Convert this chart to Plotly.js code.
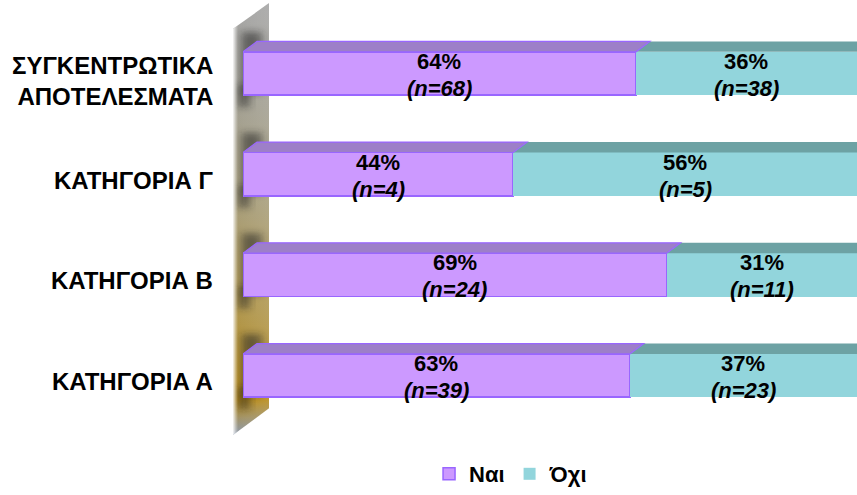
<!DOCTYPE html>
<html>
<head>
<meta charset="utf-8">
<script src="https://cdn.plot.ly/plotly-3.0.1.min.js"></script>
<style>html,body{margin:0;padding:0;background:#fff;}#chart{width:857px;height:495px;}</style>
</head>
<body>
<div id="chart"></div>
<script>
// ---- data ----
var categories = ['ΚΑΤΗΓΟΡΙΑ Α', 'ΚΑΤΗΓΟΡΙΑ Β', 'ΚΑΤΗΓΟΡΙΑ Γ', 'ΣΥΓΚΕΝΤΡΩΤΙΚΑ<br>ΑΠΟΤΕΛΕΣΜΑΤΑ'];
var seriesNames = ['Ναι', 'Όχι'];
var yesPct = [63, 69, 44, 64];
var noPct = [37, 31, 56, 36];
var yesN = [39, 24, 4, 68];
var noN = [23, 11, 5, 38];

// ---- geometry / style ----
var W = 857, H = 495;
var M = {l: 243, r: 0, t: 13, b: 54};
var yRange = [-0.6, 3.6];
var xRange = [0, 100];
var barW = 0.43;
var plotW = W - M.l - M.r, plotH = H - M.t - M.b;
var pxPerX = plotW / (xRange[1] - xRange[0]);
var pxPerY = plotH / (yRange[1] - yRange[0]);
var depthDx = 14 / pxPerX, depthDy = 10.5 / pxPerY;

var yesFront = '#CC99FF', yesLine = '#9966FF', yesTop = '#9D7FC8';
var noFront = '#92D5DC', noTop = '#6DA2A4';
var fontFam = 'Arial, "Liberation Sans", Helvetica, sans-serif';
var labelFont = {family: fontFam, size: 24, color: '#000', weight: 700};
var valueFont = {family: fontFam, size: 22, color: '#000', weight: 700};

var ys = categories.map(function (_, i) { return i; });

var traces = [
  {
    type: 'bar', orientation: 'h', name: seriesNames[0],
    y: ys, x: yesPct, width: barW,
    marker: {color: yesFront, line: {color: yesLine, width: 1.5}},
    hoverinfo: 'skip'
  },
  {
    type: 'bar', orientation: 'h', name: seriesNames[1],
    y: ys, x: noPct, width: barW,
    marker: {color: noFront, line: {color: noFront, width: 0}},
    hoverinfo: 'skip'
  }
];

// 3D top faces from data
var shapes = [];
function topFace(x0, x1, y, fill, line) {
  var yt = y + barW / 2;
  return {
    type: 'path', xref: 'x', yref: 'y', layer: 'above',
    path: 'M' + x0 + ',' + yt + ' L' + (x0 + depthDx) + ',' + (yt + depthDy) +
          ' L' + (x1 + depthDx) + ',' + (yt + depthDy) + ' L' + x1 + ',' + yt + ' Z',
    fillcolor: fill, line: {color: line, width: line === fill ? 0 : 1.2}
  };
}
ys.forEach(function (y, i) {
  shapes.push(topFace(yesPct[i], yesPct[i] + noPct[i], y, noTop, noTop));
  shapes.push(topFace(0, yesPct[i], y, yesTop, yesLine));
});

// value labels (two lines each) and category labels
var annotations = [];
function valueLabel(xMid, y, pct, n) {
  annotations.push({x: xMid, y: y, xref: 'x', yref: 'y', text: '<b>' + pct + '%</b>',
    showarrow: false, font: valueFont, xanchor: 'center', yanchor: 'middle', yshift: 12});
  annotations.push({x: xMid, y: y, xref: 'x', yref: 'y', text: '<b><i>(n=' + n + ')</i></b>',
    showarrow: false, font: valueFont, xanchor: 'center', yanchor: 'middle', yshift: -15});
}
ys.forEach(function (y, i) {
  valueLabel(yesPct[i] / 2, y, yesPct[i], yesN[i]);
  valueLabel(yesPct[i] + noPct[i] / 2, y, noPct[i], noN[i]);
  var twoLine = categories[i].indexOf('<br>') >= 0;
  annotations.push({
    x: 0, y: y, xref: 'paper', yref: 'y', xanchor: 'right', yanchor: 'middle', align: 'right',
    xshift: -28, yshift: twoLine ? -8 : -6, showarrow: false, font: labelFont,
    text: categories[i].split('<br>').map(function (p) { return '<b>' + p + '</b>'; }).join('<br>')
  });
});

// decorative back wall (svg image)
var wallPx = {x0: 233, x1: 269, y0: 3, y1: 440};
var ww = wallPx.x1 - wallPx.x0, wh = wallPx.y1 - wallPx.y0;
function yToPx(v) { return M.t + (yRange[1] - v) * pxPerY; }
var shadowRects = ys.map(function (y) {
  var top = yToPx(y + barW / 2) - wallPx.y0, bot = yToPx(y - barW / 2) - wallPx.y0;
  return "<rect x='9' y='" + (top - 20) + "' width='20' height='" + (bot - top + 18) +
         "' fill='#1a1a1a' opacity='0.55' filter='url(#b)'/>" +
         "<rect x='5' y='" + (bot - 10) + "' width='12' height='22' fill='#1a1a1a' opacity='0.5' filter='url(#b)'/>";
}).join('');
var svg = "<svg xmlns='http://www.w3.org/2000/svg' width='" + ww + "' height='" + wh +
  "' viewBox='0 0 " + ww + " " + wh + "' preserveAspectRatio='none'>" +
  "<defs><linearGradient id='g' x1='0' y1='0' x2='0' y2='1'>" +
  "<stop offset='0' stop-color='#a6a6a6'/><stop offset='0.2' stop-color='#a3a197'/>" +
  "<stop offset='0.45' stop-color='#a89f7e'/><stop offset='0.72' stop-color='#b1974d'/>" +
  "<stop offset='0.92' stop-color='#b78c1e'/><stop offset='1' stop-color='#8e9bb0'/></linearGradient>" +
  "<linearGradient id='h' x1='0' y1='0' x2='1' y2='0'>" +
  "<stop offset='0' stop-color='#fff' stop-opacity='0.9'/><stop offset='0.07' stop-color='#fff' stop-opacity='0.4'/>" +
  "<stop offset='0.14' stop-color='#fff' stop-opacity='0'/><stop offset='1' stop-color='#fff' stop-opacity='0.1'/></linearGradient>" +
  "<filter id='b' x='-50%' y='-50%' width='200%' height='200%'><feGaussianBlur stdDeviation='4'/></filter>" +
  "<clipPath id='c'><polygon points='0,26 " + ww + ",0 " + ww + "," + (wh - 27) + " 0," + wh + "'/></clipPath></defs>" +
  "<g clip-path='url(#c)'><rect width='" + ww + "' height='" + wh + "' fill='url(#g)'/>" + shadowRects +
  "<rect width='" + ww + "' height='" + wh + "' fill='url(#h)'/></g></svg>";

var images = [{
  source: 'data:image/svg+xml;charset=utf-8,' + encodeURIComponent(svg),
  xref: 'paper', yref: 'paper',
  x: (wallPx.x0 - M.l) / plotW, y: (M.t + plotH - wallPx.y0) / plotH,
  sizex: ww / plotW, sizey: wh / plotH,
  xanchor: 'left', yanchor: 'top', sizing: 'stretch', layer: 'below'
}];

var layout = {
  width: W, height: H, margin: M,
  paper_bgcolor: '#fff', plot_bgcolor: 'rgba(0,0,0,0)',
  barmode: 'stack', showlegend: true,
  font: {family: fontFam, color: '#000'},
  xaxis: {range: xRange, visible: false, fixedrange: true},
  yaxis: {
    range: yRange, tickvals: ys, ticktext: categories, showticklabels: false,
    showgrid: false, zeroline: false, showline: false, ticks: '',
    fixedrange: true
  },
  legend: {
    orientation: 'h', x: 0.303, y: -0.09, xanchor: 'left', yanchor: 'middle',
    font: {family: fontFam, size: 22, color: '#000', weight: 700},
    bgcolor: 'rgba(0,0,0,0)', itemwidth: 30, traceorder: 'normal'
  },
  shapes: shapes,
  annotations: annotations,
  images: images
};

Plotly.newPlot('chart', traces, layout, {displayModeBar: false, staticPlot: true});
</script>
</body>
</html>
